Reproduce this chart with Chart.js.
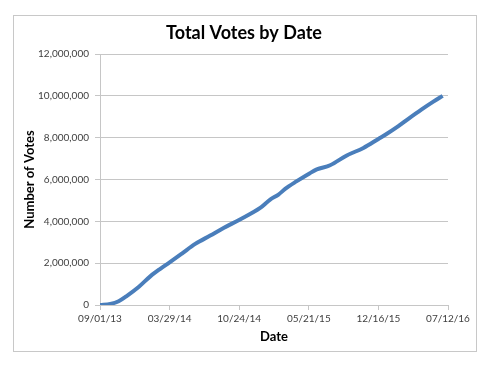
<!DOCTYPE html>
<html>
<head>
<meta charset="utf-8">
<script src="https://cdn.jsdelivr.net/npm/chart.js@4"></script>
<style>
    html, body { margin: 0; padding: 0; background: #ffffff; }
    #wrap { position: relative; width: 490px; height: 368px; }
</style>
</head>
<body>
<div id="wrap"><canvas id="votesChart" width="490" height="368"></canvas></div>
<script>
// ===============================
// Total Votes by Date - data
// ===============================

// days since 09/01/13
const dayNumbers = [0, 31, 56, 82, 116, 151, 180, 209, 246, 286, 331, 371, 419, 481, 511, 536, 556, 591, 629, 651, 691, 741, 791, 836, 858, 896, 926, 966, 1001, 1029];
const voteTotals = [0, 50000, 180000, 450000, 860000, 1370000, 1720000, 2040000, 2460000, 2920000, 3320000, 3680000, 4080000, 4640000, 5040000, 5280000, 5550000, 5920000, 6290000, 6480000, 6680000, 7150000, 7510000, 7940000, 8150000, 8550000, 8900000, 9350000, 9720000, 10000000];

const xTickLabels = ["09/01/13", "03/29/14", "10/24/14", "05/21/15", "12/16/15", "07/12/16"];
const yTickValues = [0, 2000000, 4000000, 6000000, 8000000, 10000000, 12000000];

const chartTitle = "Total Votes by Date";

const FONT = "Lato, 'Open Sans', sans-serif";
const TEXT = "#404040";
const GRID = "#c6c6c6";

// outer frame + title, centered on the whole frame (like Excel)
const framePlugin = {
    id: "frame",
    beforeDraw(chart) {
        const ctx = chart.ctx;
        ctx.save();
        ctx.fillStyle = "#ffffff";
        ctx.fillRect(0, 0, chart.width, chart.height);
        ctx.strokeStyle = "#c8c8c8";
        ctx.lineWidth = 1;
        ctx.strokeRect(13.5, 15.5, 463, 336);
        ctx.restore();
    },
    afterDraw(chart) {
        const ctx = chart.ctx;
        ctx.save();
        ctx.fillStyle = "#000000";
        ctx.font = "bold 18px " + FONT;
        ctx.textAlign = "center";
        ctx.textBaseline = "middle";
        ctx.fillText(chartTitle, 244, 33);
        ctx.restore();
    },
};

const ctx = document.getElementById("votesChart").getContext("2d");

new Chart(ctx, {
    type: "line",
    data: {
        datasets: [{
            label: "Total Votes",
            data: dayNumbers.map((d, i) => ({ x: d, y: voteTotals[i] })),
            borderColor: "#4a7ebb",
            borderWidth: 4,
            pointRadius: 0,
            tension: 0.4,
            cubicInterpolationMode: "monotone",
            fill: false,
        }],
    },
    options: {
        responsive: false,
        animation: false,
        layout: { padding: { left: 0, right: 42, top: 54, bottom: 0 } },
        plugins: {
            legend: { display: false },
            tooltip: { enabled: false },
            title: { display: false },
        },
        scales: {
            x: {
                type: "linear",
                min: 0,
                max: 1045,
                afterBuildTicks(scale) {
                    scale.ticks = xTickLabels.map((_, i) => ({ value: i * 209 }));
                },
                afterFit(scale) { scale.height = 63; },
                ticks: {
                    color: TEXT,
                    font: { family: FONT, size: 10 },
                    padding: 3,
                    maxRotation: 0,
                    autoSkip: false,
                    callback: (v, i) => xTickLabels[i],
                },
                grid: { drawOnChartArea: false, drawTicks: true, tickLength: 5, color: GRID },
                border: { display: true, color: GRID },
                title: {
                    display: true,
                    text: "Date",
                    color: "#000000",
                    font: { family: FONT, size: 13, weight: "bold" },
                    padding: { top: 0, bottom: 23 },
                },
            },
            y: {
                min: 0,
                max: 12000000,
                afterBuildTicks(scale) {
                    scale.ticks = yTickValues.map((v) => ({ value: v }));
                },
                afterFit(scale) { scale.width = 100; },
                ticks: {
                    color: TEXT,
                    font: { family: FONT, size: 10 },
                    padding: 6,
                    callback: (v) => v.toLocaleString("en-US"),
                },
                grid: { color: GRID, lineWidth: 1, tickLength: 5 },
                border: { display: true, color: GRID },
                title: {
                    display: true,
                    text: "Number of Votes",
                    color: "#000000",
                    font: { family: FONT, size: 13, weight: "bold" },
                    padding: { top: 22, bottom: 0 },
                },
            },
        },
    },
    plugins: [framePlugin],
});
</script>
</body>
</html>
